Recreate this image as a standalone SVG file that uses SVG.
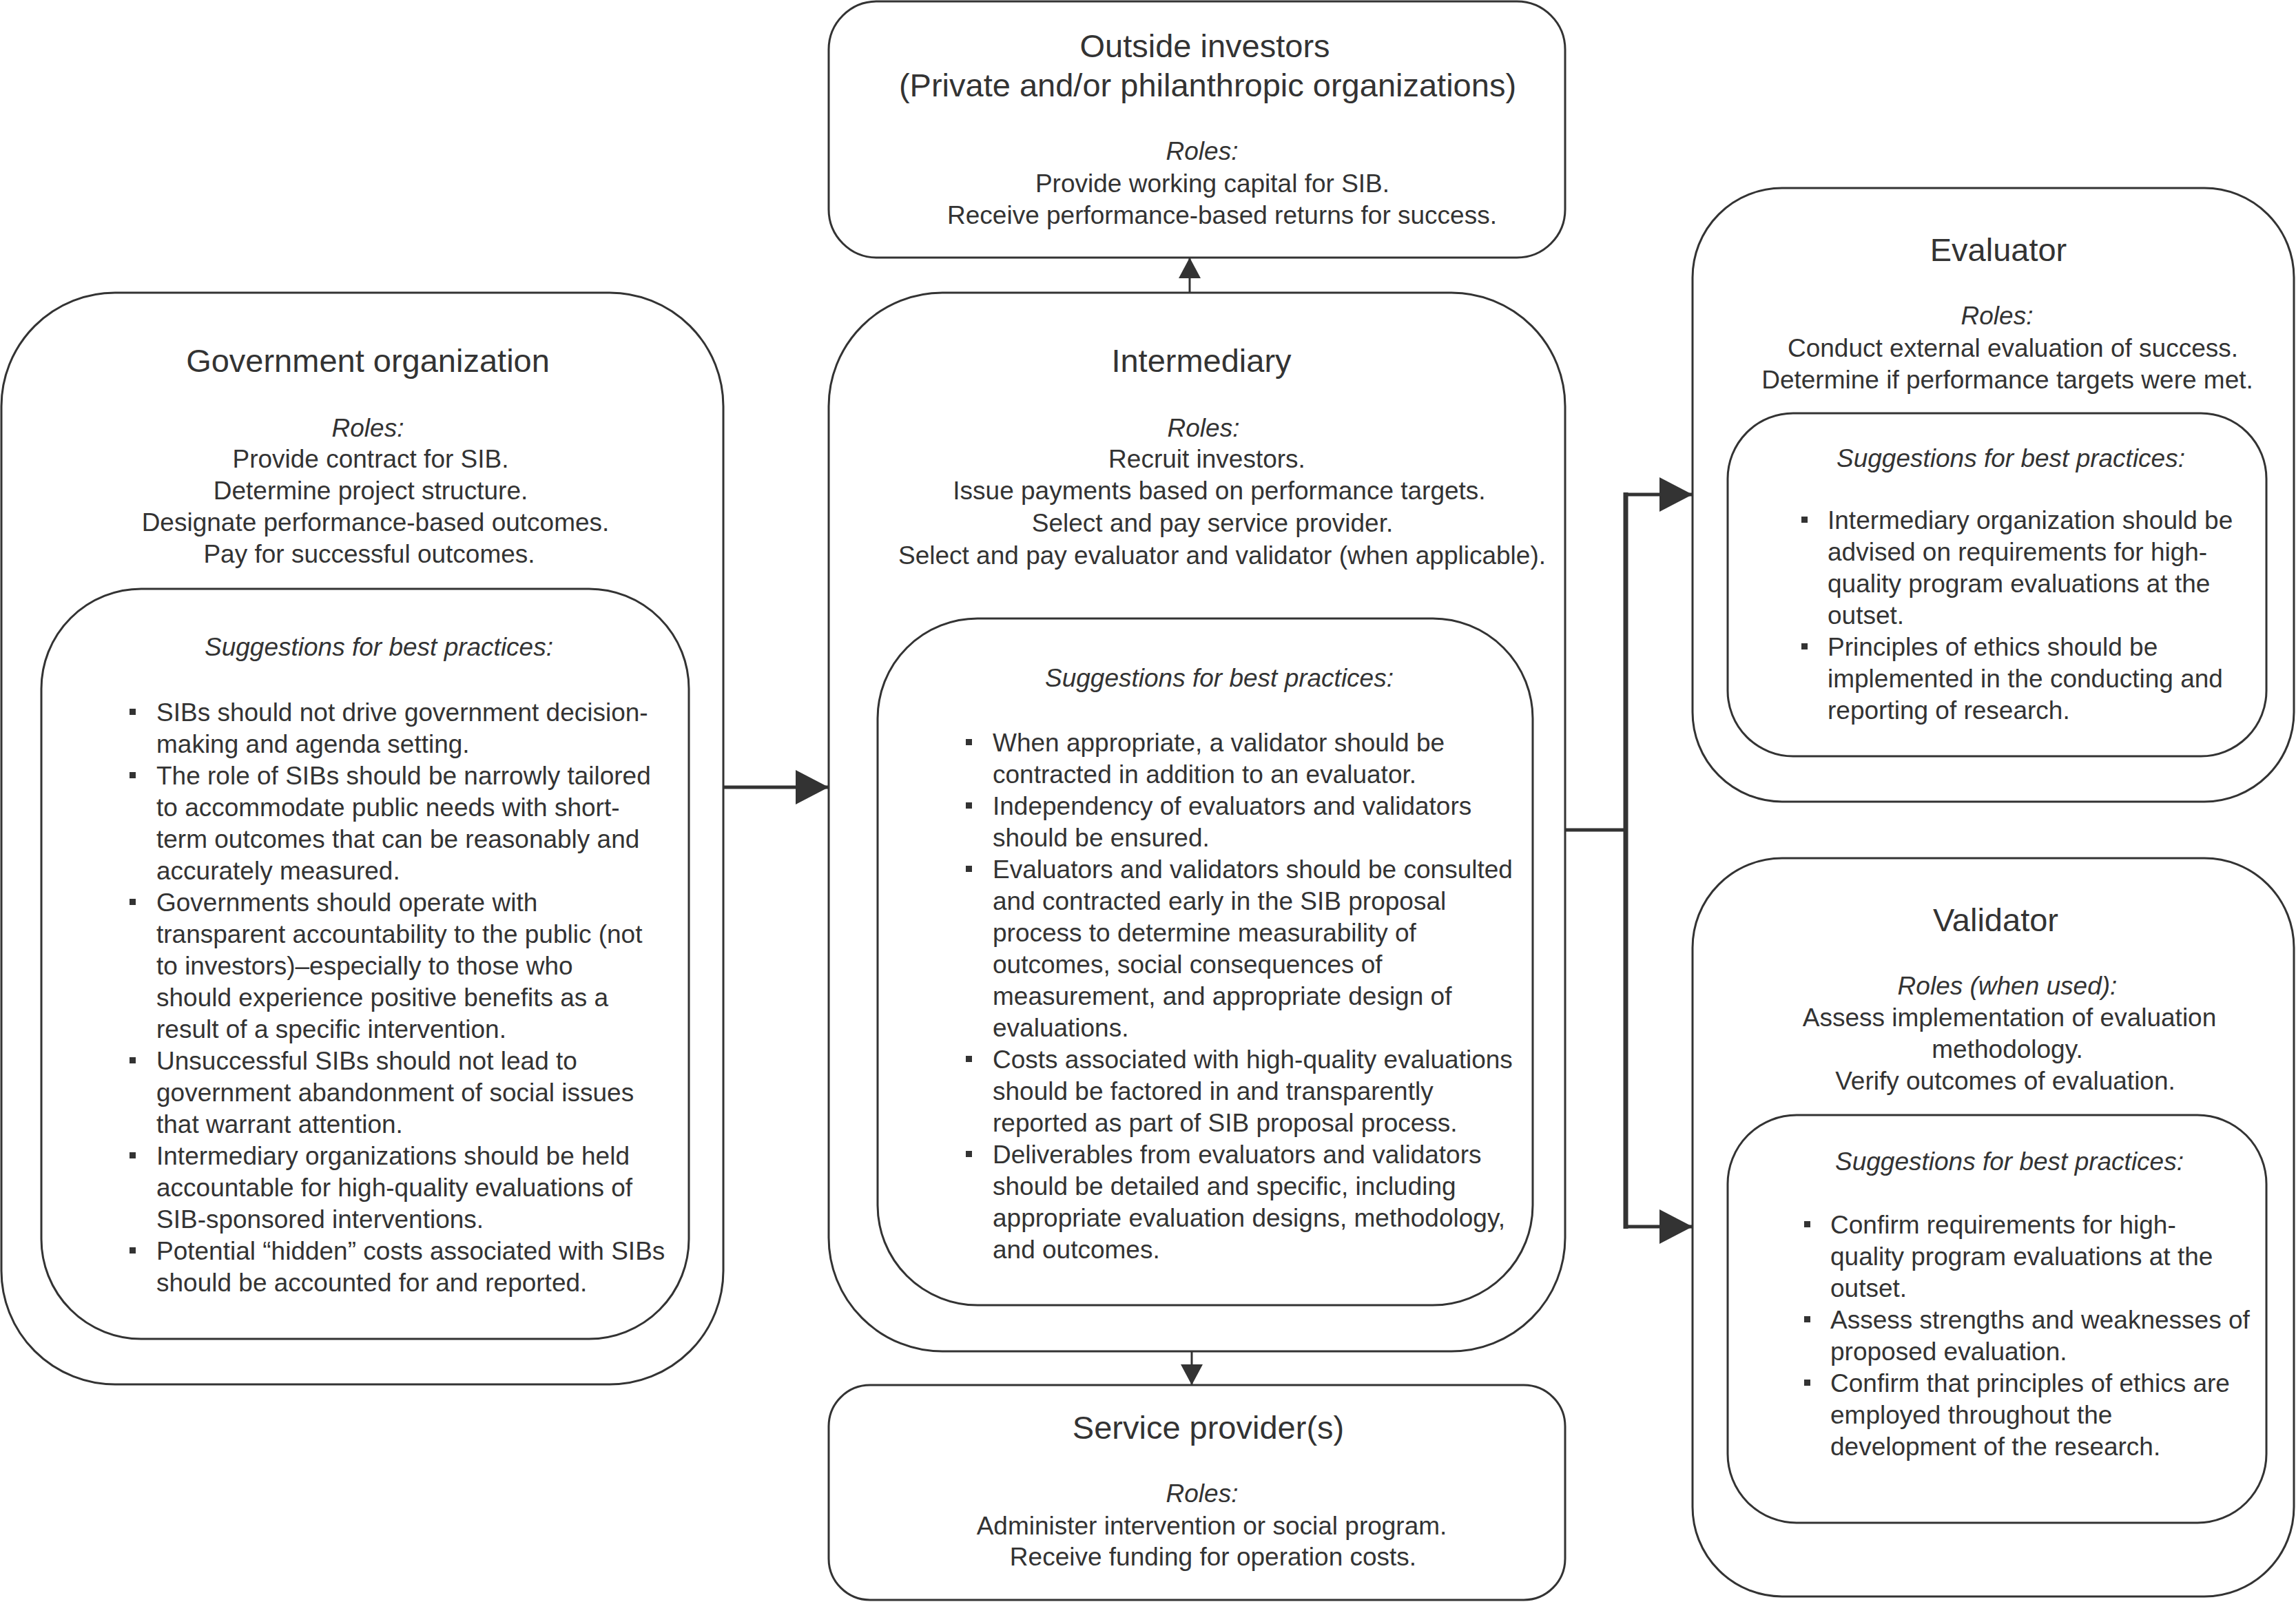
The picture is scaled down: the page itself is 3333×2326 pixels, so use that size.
<svg xmlns="http://www.w3.org/2000/svg" width="3333" height="2326" viewBox="0 0 3333 2326">
<style>
.box{fill:#fff;stroke:#333;stroke-width:3}
text{font-family:"Liberation Sans",Arial,Helvetica,sans-serif;fill:#333;font-size:37px}
.ti{font-size:47px}
.c{text-anchor:middle}
.it{font-style:italic}
.b{fill:#333}
.ln{stroke:#333;fill:none}
</style>
<defs>
<marker id="big" markerUnits="userSpaceOnUse" markerWidth="48" markerHeight="50" refX="48" refY="25" orient="auto"><path d="M0,0 L48,25 L0,50 z" fill="#333"/></marker>
<marker id="small" markerUnits="userSpaceOnUse" markerWidth="30" markerHeight="32" refX="30" refY="16" orient="auto"><path d="M0,0 L30,16 L0,32 z" fill="#333"/></marker>
</defs>
<rect width="3333" height="2326" fill="#fff"/>

<g id="connectors">
<line class="ln" x1="1050" y1="1143" x2="1203" y2="1143" stroke-width="5" marker-end="url(#big)"/>
<line class="ln" x1="1727" y1="425" x2="1727" y2="374" stroke-width="3" marker-end="url(#small)"/>
<line class="ln" x1="1730" y1="1962" x2="1730" y2="2011" stroke-width="3" marker-end="url(#small)"/>
<line class="ln" x1="2272" y1="1205" x2="2360" y2="1205" stroke-width="5"/>
<line class="ln" x1="2360" y1="715" x2="2360" y2="1784" stroke-width="7"/>
<line class="ln" x1="2357" y1="718" x2="2457" y2="718" stroke-width="5" marker-end="url(#big)"/>
<line class="ln" x1="2357" y1="1781" x2="2457" y2="1781" stroke-width="5" marker-end="url(#big)"/>
</g>

<g id="outside-investors">
<rect class="box" x="1203" y="2" width="1069" height="372" rx="70"/>
<text class="ti c" x="1749" y="83">Outside investors</text>
<text class="ti c" x="1753" y="140">(Private and/or philanthropic organizations)</text>
<text class="c it" x="1745" y="232">Roles:</text>
<text class="c" x="1760" y="279">Provide working capital for SIB.</text>
<text class="c" x="1774" y="325">Receive performance-based returns for success.</text>
</g>

<g id="government">
<rect class="box" x="2" y="425" width="1048" height="1585" rx="165"/>
<text class="ti c" x="534" y="540">Government organization</text>
<text class="c it" x="534" y="634">Roles:</text>
<text class="c" x="538" y="679">Provide contract for SIB.</text>
<text class="c" x="538" y="725">Determine project structure.</text>
<text class="c" x="545" y="771">Designate performance-based outcomes.</text>
<text class="c" x="536" y="817">Pay for successful outcomes.</text>
<rect class="box" x="60" y="855" width="940" height="1089" rx="145"/>
<text class="c it" x="550" y="952">Suggestions for best practices:</text>
<g class="b">
<rect x="188" y="1029" width="9" height="9"/>
<rect x="188" y="1121" width="9" height="9"/>
<rect x="188" y="1305" width="9" height="9"/>
<rect x="188" y="1535" width="9" height="9"/>
<rect x="188" y="1673" width="9" height="9"/>
<rect x="188" y="1811" width="9" height="9"/>
</g>
<text x="227" y="1047">SIBs should not drive government decision-</text>
<text x="227" y="1093">making and agenda setting.</text>
<text x="227" y="1139">The role of SIBs should be narrowly tailored</text>
<text x="227" y="1185">to accommodate public needs with short-</text>
<text x="227" y="1231">term outcomes that can be reasonably and</text>
<text x="227" y="1277">accurately measured.</text>
<text x="227" y="1323">Governments should operate with</text>
<text x="227" y="1369">transparent accountability to the public (not</text>
<text x="227" y="1415">to investors)–especially to those who</text>
<text x="227" y="1461">should experience positive benefits as a</text>
<text x="227" y="1507">result of a specific intervention.</text>
<text x="227" y="1553">Unsuccessful SIBs should not lead to</text>
<text x="227" y="1599">government abandonment of social issues</text>
<text x="227" y="1645">that warrant attention.</text>
<text x="227" y="1691">Intermediary organizations should be held</text>
<text x="227" y="1737">accountable for high-quality evaluations of</text>
<text x="227" y="1783">SIB-sponsored interventions.</text>
<text x="227" y="1829">Potential “hidden” costs associated with SIBs</text>
<text x="227" y="1875">should be accounted for and reported.</text>
</g>

<g id="intermediary">
<rect class="box" x="1203" y="425" width="1069" height="1537" rx="165"/>
<text class="ti c" x="1744" y="540">Intermediary</text>
<text class="c it" x="1747" y="634">Roles:</text>
<text class="c" x="1752" y="679">Recruit investors.</text>
<text class="c" x="1770" y="725">Issue payments based on performance targets.</text>
<text class="c" x="1760" y="772">Select and pay service provider.</text>
<text class="c" x="1774" y="819">Select and pay evaluator and validator (when applicable).</text>
<rect class="box" x="1274" y="898" width="951" height="997" rx="145"/>
<text class="c it" x="1770" y="997">Suggestions for best practices:</text>
<g class="b">
<rect x="1402" y="1073" width="9" height="9"/>
<rect x="1402" y="1165" width="9" height="9"/>
<rect x="1402" y="1257" width="9" height="9"/>
<rect x="1402" y="1533" width="9" height="9"/>
<rect x="1402" y="1671" width="9" height="9"/>
</g>
<text x="1441" y="1091">When appropriate, a validator should be</text>
<text x="1441" y="1137">contracted in addition to an evaluator.</text>
<text x="1441" y="1183">Independency of evaluators and validators</text>
<text x="1441" y="1229">should be ensured.</text>
<text x="1441" y="1275">Evaluators and validators should be consulted</text>
<text x="1441" y="1321">and contracted early in the SIB proposal</text>
<text x="1441" y="1367">process to determine measurability of</text>
<text x="1441" y="1413">outcomes, social consequences of</text>
<text x="1441" y="1459">measurement, and appropriate design of</text>
<text x="1441" y="1505">evaluations.</text>
<text x="1441" y="1551">Costs associated with high-quality evaluations</text>
<text x="1441" y="1597">should be factored in and transparently</text>
<text x="1441" y="1643">reported as part of SIB proposal process.</text>
<text x="1441" y="1689">Deliverables from evaluators and validators</text>
<text x="1441" y="1735">should be detailed and specific, including</text>
<text x="1441" y="1781">appropriate evaluation designs, methodology,</text>
<text x="1441" y="1827">and outcomes.</text>
</g>

<g id="service-provider">
<rect class="box" x="1203" y="2011" width="1069" height="312" rx="60"/>
<text class="ti c" x="1754" y="2089">Service provider(s)</text>
<text class="c it" x="1745" y="2181">Roles:</text>
<text class="c" x="1759" y="2228">Administer intervention or social program.</text>
<text class="c" x="1761" y="2273">Receive funding for operation costs.</text>
</g>

<g id="evaluator">
<rect class="box" x="2457" y="273" width="873" height="891" rx="130"/>
<text class="ti c" x="2901" y="379">Evaluator</text>
<text class="c it" x="2899" y="471">Roles:</text>
<text class="c" x="2922" y="518">Conduct external evaluation of success.</text>
<text class="c" x="2914" y="564">Determine if performance targets were met.</text>
<rect class="box" x="2508" y="600" width="782" height="498" rx="95"/>
<text class="c it" x="2919" y="678">Suggestions for best practices:</text>
<g class="b">
<rect x="2615" y="750" width="9" height="9"/>
<rect x="2615" y="934" width="9" height="9"/>
</g>
<text x="2653" y="768">Intermediary organization should be</text>
<text x="2653" y="814">advised on requirements for high-</text>
<text x="2653" y="860">quality program evaluations at the</text>
<text x="2653" y="906">outset.</text>
<text x="2653" y="952">Principles of ethics should be</text>
<text x="2653" y="998">implemented in the conducting and</text>
<text x="2653" y="1044">reporting of research.</text>
</g>

<g id="validator">
<rect class="box" x="2457" y="1246" width="873" height="1072" rx="130"/>
<text class="ti c" x="2897" y="1352">Validator</text>
<text class="c it" x="2914" y="1444">Roles (when used):</text>
<text class="c" x="2917" y="1490">Assess implementation of evaluation</text>
<text class="c" x="2914" y="1536">methodology.</text>
<text class="c" x="2911" y="1582">Verify outcomes of evaluation.</text>
<rect class="box" x="2508" y="1619" width="782" height="592" rx="100"/>
<text class="c it" x="2917" y="1699">Suggestions for best practices:</text>
<g class="b">
<rect x="2619" y="1773" width="9" height="9"/>
<rect x="2619" y="1911" width="9" height="9"/>
<rect x="2619" y="2003" width="9" height="9"/>
</g>
<text x="2657" y="1791">Confirm requirements for high-</text>
<text x="2657" y="1837">quality program evaluations at the</text>
<text x="2657" y="1883">outset.</text>
<text x="2657" y="1929">Assess strengths and weaknesses of</text>
<text x="2657" y="1975">proposed evaluation.</text>
<text x="2657" y="2021">Confirm that principles of ethics are</text>
<text x="2657" y="2067">employed throughout the</text>
<text x="2657" y="2113">development of the research.</text>
</g>
</svg>
